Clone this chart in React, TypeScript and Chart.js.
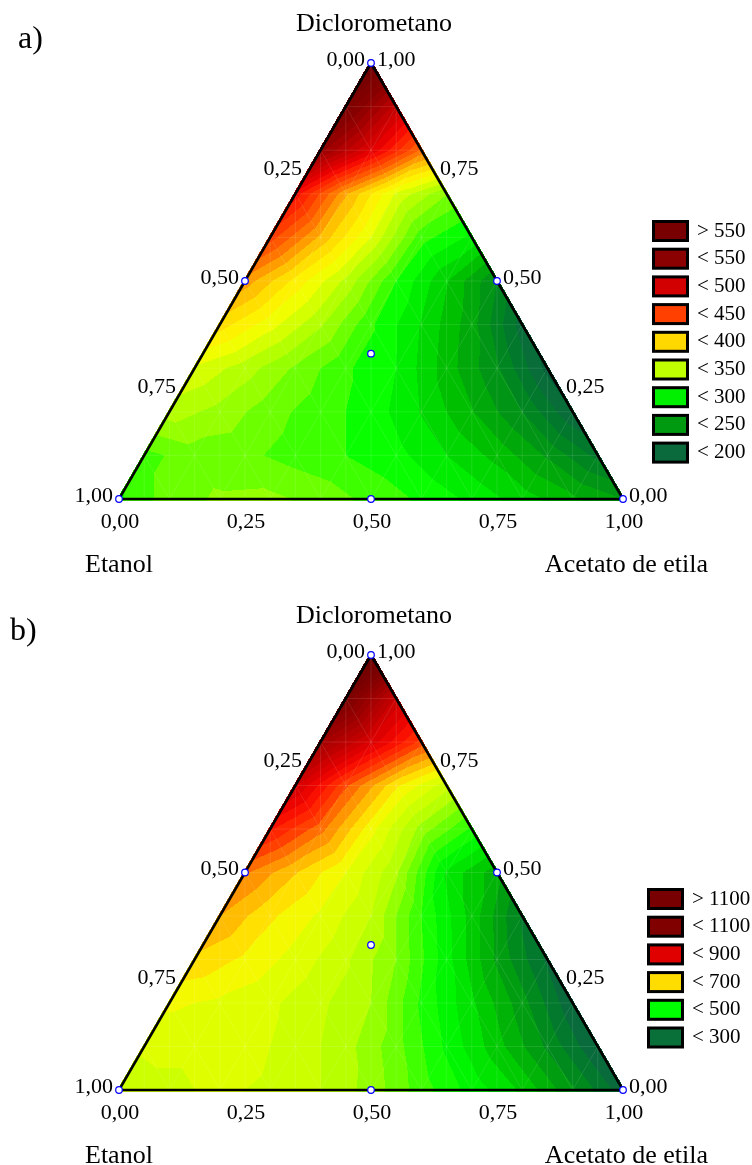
import React, { useEffect, useRef, useState } from "react";
import { Chart, registerables } from "chart.js";
Chart.register(...registerables);

if (typeof document !== "undefined") {
  document.body.style.margin = "0";
}

// ---------- data ----------
// Design points of the mixture (D = Diclorometano fraction, A = Acetato de etila fraction)
const designD = [1, 0, 0, 0.5, 0.5, 0, 1 / 3];
const designA = [0, 0, 1, 0, 0.5, 0.5, 1 / 3];

const tickValues = [0, 0.25, 0.5, 0.75, 1];
const tickLabels = ["0,00", "0,25", "0,50", "0,75", "1,00"];

const axisTop = "Diclorometano";
const axisLeft = "Etanol";
const axisRight = "Acetato de etila";

// Response surface read from panel a) — rows D = 1.0 … 0.0, values for A = 0, 0.1, …
const surfaceA: number[][] = [
  [600],
  [575, 510],
  [545, 490, 430],
  [475, 410, 358, 325],
  [450, 405, 360, 305, 285],
  [415, 380, 345, 300, 265, 228],
  [390, 365, 338, 302, 275, 245, 198],
  [358, 342, 322, 302, 288, 258, 230, 188],
  [342, 332, 317, 305, 295, 275, 253, 228, 193],
  [308, 318, 315, 307, 300, 292, 276, 260, 238, 212],
  [298, 318, 326, 327, 320, 308, 298, 285, 270, 255, 240],
];

// Response surface read from panel b)
const surfaceB: number[][] = [
  [1200],
  [1110, 930],
  [1010, 900, 800],
  [915, 790, 690, 620],
  [840, 770, 670, 575, 505],
  [765, 712, 660, 590, 455, 395],
  [735, 690, 655, 610, 510, 425, 330],
  [705, 680, 650, 615, 560, 470, 380, 305],
  [665, 655, 640, 615, 585, 505, 440, 370, 290],
  [640, 640, 645, 625, 595, 545, 480, 420, 355, 285],
  [615, 630, 640, 630, 610, 575, 522, 475, 430, 365, 295],
];

const legendLabelsA = ["> 550", "< 550", "< 500", "< 450", "< 400", "< 350", "< 300", "< 250", "< 200"];
const legendColorsA = ["#780000", "#8b0000", "#d20000", "#ff4000", "#ffd800", "#c0ff00", "#00f000", "#009a10", "#0a6a3c"];
const legendLabelsB = ["> 1100", "< 1100", "< 900", "< 700", "< 500", "< 300"];
const legendColorsB = ["#780000", "#800000", "#e00000", "#ffdd00", "#00ff00", "#0a703a"];

// colour ramps
const stopValuesA = [180, 195, 215, 235, 255, 275, 292, 310, 330, 350, 365, 380, 395, 410, 425, 445, 465, 480, 500, 525, 550, 600];
const stopColorsA = ["#005537", "#0a6a3c", "#007d28", "#009614", "#00b900", "#00e100", "#00ff00", "#50ff00", "#96ff00", "#c8ff00", "#f0ff00", "#fff000", "#ffd700", "#ffaa00", "#ff7800", "#ff4600", "#ff1e00", "#f00000", "#d20000", "#af0000", "#8c0000", "#6e0000"];
const stopValuesB = [270, 295, 330, 370, 410, 450, 485, 520, 560, 600, 640, 665, 690, 715, 760, 800, 840, 880, 950, 1030, 1100, 1200];
const stopColorsB = ["#005a37", "#0a6a3c", "#007d28", "#009b12", "#00be00", "#00e600", "#00ff00", "#3cff00", "#82ff00", "#bcff00", "#d8ff00", "#f0ff00", "#ffea00", "#ffc800", "#ff8200", "#ff3c00", "#ff1400", "#e60000", "#be0000", "#960000", "#7d0000", "#690000"];

const FONT = '"Liberation Serif", "Times New Roman", serif';

// ---------- helpers ----------
function hexToRgb(h: string): number[] {
  return [parseInt(h.slice(1, 3), 16), parseInt(h.slice(3, 5), 16), parseInt(h.slice(5, 7), 16)];
}

function rampColor(v: number, vals: number[], cols: number[][]): number[] {
  if (v <= vals[0]) return cols[0];
  if (v >= vals[vals.length - 1]) return cols[cols.length - 1];
  for (let i = 0; i < vals.length - 1; i++) {
    if (v <= vals[i + 1]) {
      const t = (v - vals[i]) / (vals[i + 1] - vals[i]);
      const a = cols[i], b = cols[i + 1];
      return [a[0] + (b[0] - a[0]) * t, a[1] + (b[1] - a[1]) * t, a[2] + (b[2] - a[2]) * t];
    }
  }
  return cols[cols.length - 1];
}

function gv(surface: number[][], r: number, c: number): number {
  const N = surface.length - 1;
  const rr = Math.max(0, Math.min(N, r));
  const row = surface[N - rr];
  return row[Math.max(0, Math.min(row.length - 1, c))];
}

function interp(surface: number[][], D: number, A: number): number {
  const N = surface.length - 1;
  const di = Math.max(0, Math.min(N, D * N));
  const ai = Math.max(0, Math.min(N, A * N));
  const r = Math.min(N - 1, Math.floor(di));
  let c = Math.floor(ai);
  if (r + c > N - 1) c = Math.max(0, N - 1 - r);
  const fr = di - r, fc = ai - c;
  if (fr + fc <= 1 || r + c + 2 > N) {
    return gv(surface, r, c) * (1 - fr - fc) + gv(surface, r, c + 1) * fc + gv(surface, r + 1, c) * fr;
  }
  return gv(surface, r + 1, c + 1) * (fr + fc - 1) + gv(surface, r + 1, c) * (1 - fc) + gv(surface, r, c + 1) * (1 - fr);
}

type PanelCfg = {
  height: number;
  pad: { left: number; right: number; top: number; bottom: number };
  letter: string;
  letterX: number;
  surface: number[][];
  stopValues: number[];
  stopColors: string[];
  base: number;
  step: number;
  legendLabels: string[];
  legendColors: string[];
  legendX: number;
  legendY: number;
  legendTextX: number;
};

function makePlugin(cfg: PanelCfg, report: (s: string) => void) {
  return {
    id: "ternaryField",
    beforeDatasetsDraw(chart: any) {
      try {
        const ctx = chart.ctx;
        const area = chart.chartArea;
        const sx = chart.scales.x, sy = chart.scales.y;
        const cols = cfg.stopColors.map((h) => hexToRgb(h));
        const x0 = Math.floor(area.left) - 2, x1 = Math.ceil(area.right) + 2;
        const y0 = Math.floor(area.top) - 2, y1 = Math.ceil(area.bottom) + 2;
        const w = x1 - x0, h = y1 - y0;
        const off = document.createElement("canvas");
        off.width = w;
        off.height = h;
        const octx = off.getContext("2d") as CanvasRenderingContext2D;
        const img = octx.createImageData(w, h);
        const eps = 0.004;
        for (let py = 0; py < h; py++) {
          const D = sy.getValueForPixel(y0 + py + 0.5);
          for (let px = 0; px < w; px++) {
            const X = sx.getValueForPixel(x0 + px + 0.5);
            const A = X - D / 2;
            const E = 1 - D - A;
            if (D < -eps || A < -eps || E < -eps) continue;
            const Dc = Math.max(0, Math.min(1, D));
            const Ac = Math.max(0, Math.min(1 - Dc, A));
            const v = interp(cfg.surface, Dc, Ac);
            const band = Math.floor((v - cfg.base) / cfg.step);
            const vq = cfg.base + (band + 0.5) * cfg.step;
            const c = rampColor(vq, cfg.stopValues, cols);
            const k = (py * w + px) * 4;
            img.data[k] = c[0];
            img.data[k + 1] = c[1];
            img.data[k + 2] = c[2];
            img.data[k + 3] = 255;
          }
        }
        octx.putImageData(img, 0, 0);
        ctx.drawImage(off, x0, y0);

        const P = (D: number, A: number) => [sx.getPixelForValue(A + D / 2), sy.getPixelForValue(D)];
        ctx.save();
        ctx.beginPath();
        const t = P(1, 0), l = P(0, 0), r = P(0, 1);
        ctx.moveTo(t[0], t[1]);
        ctx.lineTo(l[0], l[1]);
        ctx.lineTo(r[0], r[1]);
        ctx.closePath();
        ctx.clip();
        ctx.strokeStyle = "rgba(255,255,255,0.14)";
        ctx.lineWidth = 0.8;
        ctx.beginPath();
        for (let k = 1; k < 10; k++) {
          const d = k / 10;
          const a = P(d, 0), b = P(d, 1 - d);
          ctx.moveTo(a[0], a[1]);
          ctx.lineTo(b[0], b[1]);
        }
        for (let k = 1; k < 20; k++) {
          const px = sx.getPixelForValue(k / 20);
          ctx.moveTo(px, sy.getPixelForValue(1));
          ctx.lineTo(px, sy.getPixelForValue(0));
        }
        for (let k = 1; k < 10; k++) {
          const a0 = k / 10;
          const p1 = P(0, a0), p2 = P(1 - a0, a0);
          ctx.moveTo(p1[0], p1[1]);
          ctx.lineTo(p2[0], p2[1]);
          const q1 = P(0, 1 - a0), q2 = P(1 - a0, 0);
          ctx.moveTo(q1[0], q1[1]);
          ctx.lineTo(q2[0], q2[1]);
        }
        ctx.stroke();
        ctx.restore();
      } catch (e: any) {
        report("field: " + String(e && e.stack ? e.stack : e));
      }
    },
    afterDraw(chart: any) {
      try {
        const ctx = chart.ctx;
        const sx = chart.scales.x, sy = chart.scales.y;
        const P = (D: number, A: number) => [sx.getPixelForValue(A + D / 2), sy.getPixelForValue(D)];
        const text = (s: string, x: number, y: number, align: CanvasTextAlign, size: number) => {
          ctx.font = `${size}px ${FONT}`;
          ctx.textAlign = align;
          ctx.textBaseline = "middle";
          ctx.fillStyle = "#000";
          ctx.fillText(s, x, y);
        };
        ctx.save();
        const top = P(1, 0), left = P(0, 0), right = P(0, 1);
        text(cfg.letter, cfg.letterX, top[1] - 23, "left", 32);
        text(axisTop, top[0] + 3, top[1] - 39, "center", 26);
        text(axisLeft, left[0] - 34, left[1] + 66, "left", 26);
        text(axisRight, right[0] + 85, right[1] + 66, "right", 26);
        tickValues.forEach((t, i) => {
          const pl = P(1 - t, 0);
          text(tickLabels[i], pl[0] - 6, pl[1] - 3, "right", 22);
          const pr = P(t, 1 - t);
          text(tickLabels[i], pr[0] + 6, pr[1] - 3, "left", 22);
          const pb = P(0, t);
          text(tickLabels[i], pb[0] + 1, pb[1] + 23, "center", 22);
        });
        cfg.legendLabels.forEach((lab, i) => {
          const y = cfg.legendY + i * 27.7;
          ctx.fillStyle = cfg.legendColors[i];
          ctx.fillRect(cfg.legendX + 1.5, y + 1.5, 34, 19);
          ctx.strokeStyle = "#000";
          ctx.lineWidth = 3;
          ctx.strokeRect(cfg.legendX + 1.5, y + 1.5, 34, 19);
          text(lab, cfg.legendTextX, y + 11, "left", 21);
        });
        ctx.restore();
      } catch (e: any) {
        report("text: " + String(e && e.stack ? e.stack : e));
      }
    },
  };
}

const panelA: PanelCfg = {
  height: 585,
  pad: { left: 119, right: 129, top: 63, bottom: 86 },
  letter: "a)", letterX: 18,
  surface: surfaceA, stopValues: stopValuesA, stopColors: stopColorsA, base: 180, step: 12,
  legendLabels: legendLabelsA, legendColors: legendColorsA,
  legendX: 652, legendY: 220, legendTextX: 697,
};

const panelB: PanelCfg = {
  height: 580,
  pad: { left: 119, right: 129, top: 70, bottom: 75 },
  letter: "b)", letterX: 10,
  surface: surfaceB, stopValues: stopValuesB, stopColors: stopColorsB, base: 260, step: 25,
  legendLabels: legendLabelsB, legendColors: legendColorsB,
  legendX: 647, legendY: 303, legendTextX: 692,
};

function TernaryPanel({ cfg }: { cfg: PanelCfg }) {
  const ref = useRef<HTMLCanvasElement>(null);
  const [err, setErr] = useState("");
  useEffect(() => {
    const canvas = ref.current;
    if (!canvas) return;
    let chart: any = null;
    const msgs: string[] = [];
    const report = (s: string) => { msgs.push(s); };
    try {
      chart = new Chart(canvas, {
        type: "scatter",
        data: {
          datasets: [
            {
              label: "design",
              data: designD.map((d, i) => ({ x: designA[i] + d / 2, y: d })),
              pointRadius: 3.3,
              pointBackgroundColor: "#ffffff",
              pointBorderColor: "#0000ff",
              pointBorderWidth: 1.2,
              showLine: false,
              clip: false,
              order: 0,
            } as any,
            {
              label: "outline",
              data: [
                { x: 0.5, y: 1 },
                { x: 0, y: 0 },
                { x: 1, y: 0 },
                { x: 0.5, y: 1 },
              ],
              showLine: true,
              borderColor: "#000000",
              borderWidth: 2.6,
              pointRadius: 0,
              fill: false,
              clip: false,
              order: 1,
            } as any,
          ],
        },
        options: {
          responsive: false,
          animation: false,
          layout: { padding: cfg.pad },
          scales: {
            x: { type: "linear", min: 0, max: 1, display: false },
            y: { type: "linear", min: 0, max: 1, display: false },
          },
          plugins: {
            legend: { display: false },
            tooltip: { enabled: false },
          },
        },
        plugins: [makePlugin(cfg, report) as any],
      });
    } catch (e: any) {
      msgs.push("create: " + String(e && e.stack ? e.stack : e));
    }
    if (msgs.length) setErr(msgs.join(" | "));
    return () => { if (chart) chart.destroy(); };
  }, [cfg]);
  return (
    <div style={{ position: "relative", width: 752, height: cfg.height }}>
      <canvas ref={ref} width={752} height={cfg.height} style={{ display: "block", width: 752, height: cfg.height }} />
      {err ? <div style={{ position: "absolute", left: 0, top: 0, fontSize: 12, color: "red" }}>{err}</div> : null}
    </div>
  );
}

export default function App() {
  return (
    <div style={{ width: 752, height: 1165 }}>
      <TernaryPanel cfg={panelA} />
      <TernaryPanel cfg={panelB} />
    </div>
  );
}
